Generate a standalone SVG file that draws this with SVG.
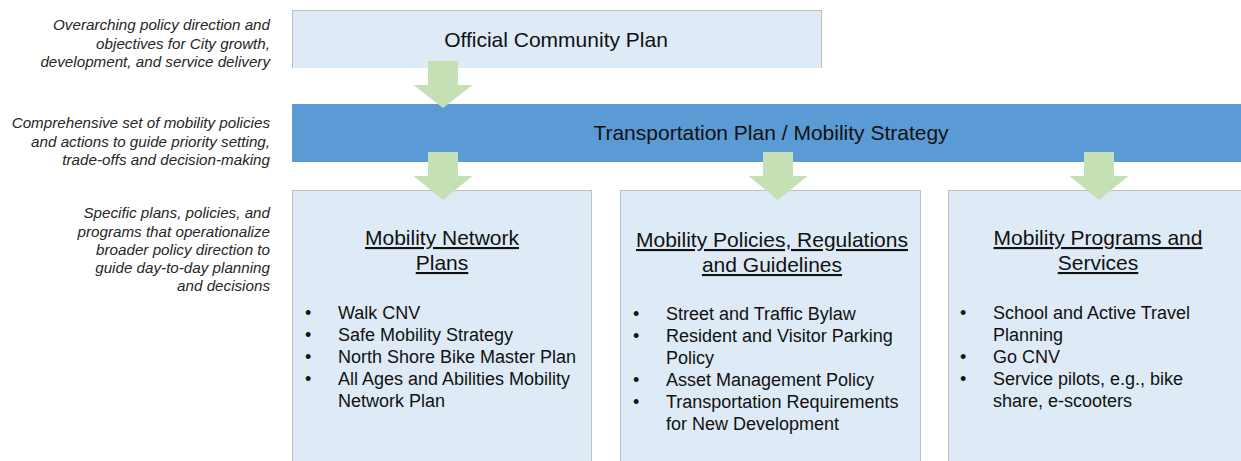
<svg xmlns="http://www.w3.org/2000/svg" width="1241" height="461" viewBox="0 0 1241 461">
<defs>
<style>
.note{font-family:"Liberation Sans",Arial,sans-serif;font-style:italic;font-size:15.2px;fill:#262626;text-anchor:end}
.box{fill:#deeaf6}
.edge{fill:none;stroke:#bfbfbf;stroke-width:1}
.title{font-family:"Liberation Sans",Arial,sans-serif;font-size:21px;fill:#111;text-anchor:middle}
.head{font-family:"Liberation Sans",Arial,sans-serif;font-size:21px;fill:#111;text-anchor:middle;text-decoration:underline}
.item{font-family:"Liberation Sans",Arial,sans-serif;font-size:18px;fill:#111}
.arrow{fill:#c5e0b4}
</style>
</defs>
<rect width="1241" height="461" fill="#ffffff"/>
<g id="notes">
<text class="note" x="270" y="30">Overarching policy direction and</text>
<text class="note" x="270" y="48.5">objectives for City growth,</text>
<text class="note" x="270" y="67">development, and service delivery</text>
<text class="note" x="270" y="128">Comprehensive set of mobility policies</text>
<text class="note" x="270" y="146.5">and actions to guide priority setting,</text>
<text class="note" x="270" y="165">trade-offs and decision-making</text>
<text class="note" x="270" y="218">Specific plans, policies, and</text>
<text class="note" x="270" y="236.5">programs that operationalize</text>
<text class="note" x="270" y="255">broader policy direction to</text>
<text class="note" x="270" y="273">guide day-to-day planning</text>
<text class="note" x="270" y="291">and decisions</text>
</g>
<g id="ocp">
<rect class="box" x="292" y="10" width="530" height="58"/>
<path class="edge" d="M292.5 68V10.5H821.5V68"/>
<text class="title" x="556" y="47">Official Community Plan</text>
</g>
<g id="tmp">
<rect x="292" y="104" width="949" height="58" fill="#5b9bd5"/>
<text class="title" x="771" y="140">Transportation Plan / Mobility Strategy</text>
</g>
<g id="network">
<rect class="box" x="292" y="190" width="300" height="271"/>
<path class="edge" d="M292.5 461V190.5H591.5V461"/>
<text class="head" x="442" y="245">Mobility Network</text>
<text class="head" x="442" y="270">Plans</text>
<g class="item">
<text x="305" y="319">•</text><text x="338" y="319">Walk CNV</text>
<text x="305" y="341">•</text><text x="338" y="341">Safe Mobility Strategy</text>
<text x="305" y="363">•</text><text x="338" y="363">North Shore Bike Master Plan</text>
<text x="305" y="385">•</text><text x="338" y="385">All Ages and Abilities Mobility</text>
<text x="338" y="407">Network Plan</text>
</g>
</g>
<g id="policies">
<rect class="box" x="620" y="190" width="301" height="271"/>
<path class="edge" d="M620.5 461V190.5H920.5V461"/>
<text class="head" x="772" y="247">Mobility Policies, Regulations</text>
<text class="head" x="772" y="272">and Guidelines</text>
<g class="item">
<text x="633" y="320">•</text><text x="666" y="320">Street and Traffic Bylaw</text>
<text x="633" y="342">•</text><text x="666" y="342">Resident and Visitor Parking</text>
<text x="666" y="364">Policy</text>
<text x="633" y="386">•</text><text x="666" y="386">Asset Management Policy</text>
<text x="633" y="408">•</text><text x="666" y="408">Transportation Requirements</text>
<text x="666" y="430">for New Development</text>
</g>
</g>
<g id="programs">
<rect class="box" x="948" y="190" width="300" height="271"/>
<path class="edge" d="M948.5 461V190.5H1241"/>
<text class="head" x="1098" y="245">Mobility Programs and</text>
<text class="head" x="1098" y="270">Services</text>
<g class="item">
<text x="960" y="319">•</text><text x="993" y="319">School and Active Travel</text>
<text x="993" y="341">Planning</text>
<text x="960" y="363">•</text><text x="993" y="363">Go CNV</text>
<text x="960" y="385">•</text><text x="993" y="385">Service pilots, e.g., bike</text>
<text x="993" y="407">share, e-scooters</text>
</g>
</g>
<g id="connectors">
<path class="arrow" d="M428 61H458V85H472.5L443 108L413.5 85H428Z"/>
<path class="arrow" d="M428 152H458V176H472.5L443 200L413.5 176H428Z"/>
<path class="arrow" d="M763 152H793V176H807.5L778 200L748.5 176H763Z"/>
<path class="arrow" d="M1084 152H1114V176H1128.5L1099 200L1069.5 176H1084Z"/>
</g>
</svg>
